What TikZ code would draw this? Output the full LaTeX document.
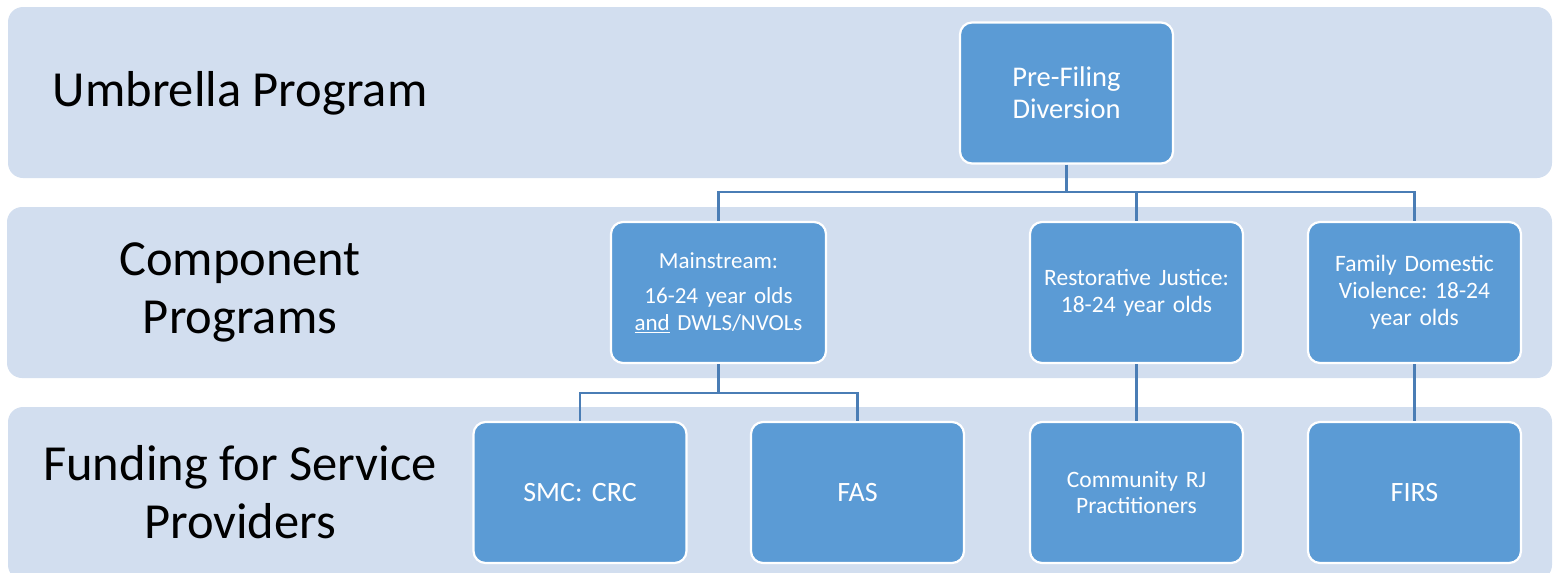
\documentclass[tikz,border=0pt]{standalone}
\usepackage{fontspec}
\setmainfont{Carlito}
\frenchspacing
\definecolor{bandfill}{HTML}{D2DEEF}
\definecolor{boxfill}{HTML}{5B9BD5}
\definecolor{linkcol}{HTML}{4A7DB5}
\begin{document}
\begin{tikzpicture}[x=1pt,y=-1pt,
  band/.style={fill=bandfill,draw=none,rounded corners=15pt},
  lbl/.style={text=black,align=center,font=\fontsize{50.5}{58}\selectfont\frenchspacing},
  box/.style={rectangle,fill=boxfill,draw=white,line width=2.2pt,rounded corners=12pt,
    minimum width=213pt,minimum height=141pt,inner sep=4pt,text=white,align=center,
    text width=200pt},
  link/.style={draw=linkcol,line width=2.6pt}]
\useasboundingbox (0,0) rectangle (1559,573);
\clip (0,0) rectangle (1559,573);
% bands
\path[band] (8,7) rectangle (1552,178);
\path[band] (7,207) rectangle (1552,378);
\path[band] (8,407) rectangle (1552,580);
% labels
\node[lbl] (l1) at (240,93) {Umbrella Program};
\node[lbl] (l2) at (240,292) {Component\\Programs};
\node[lbl] (l3) at (240,492) {Funding for Service\\Providers};
% boxes
\node[box,font=\fontsize{28.5}{32}\selectfont\frenchspacing] (pre) at (1066.5,93) {Pre-Filing\\Diversion};
\node[box,minimum width=215pt,font=\fontsize{23}{26.5}\selectfont\frenchspacing] (main) at (718.5,292.5)
  {Mainstream:\\[9pt]16-24 year olds\\\underline{and} DWLS/NVOLs};
\node[box,font=\fontsize{23.5}{27}\selectfont\frenchspacing] (rj) at (1136.5,292.5) {Restorative Justice:\\18-24 year olds};
\node[box,font=\fontsize{23.5}{27}\selectfont\frenchspacing] (fdv) at (1414.5,292.5) {Family Domestic\\Violence: 18-24\\year olds};
\node[box,font=\fontsize{28}{32}\selectfont\frenchspacing] (smc) at (580,492.5) {SMC: CRC};
\node[box,font=\fontsize{28}{32}\selectfont\frenchspacing] (fas) at (857.5,492.5) {FAS};
\node[box,font=\fontsize{23.5}{26.5}\selectfont\frenchspacing] (crj) at (1136.5,492.5) {Community RJ\\Practitioners};
\node[box,font=\fontsize{28}{32}\selectfont\frenchspacing] (firs) at (1414.5,492.5) {FIRS};
% connectors
\coordinate (j1) at (1066.5,192);
\coordinate (j2) at (718.5,393);
\draw[link] (pre.south) -- (j1);
\draw[link] (j1) -| (main.north);
\draw[link] (j1) -| (rj.north);
\draw[link] (j1) -| (fdv.north);
\draw[link] (main.south) -- (j2);
\draw[link] (j2) -| (smc.north);
\draw[link] (j2) -| (fas.north);
\draw[link] (rj.south) -- (crj.north);
\draw[link] (fdv.south) -- (firs.north);
\end{tikzpicture}
\end{document}
